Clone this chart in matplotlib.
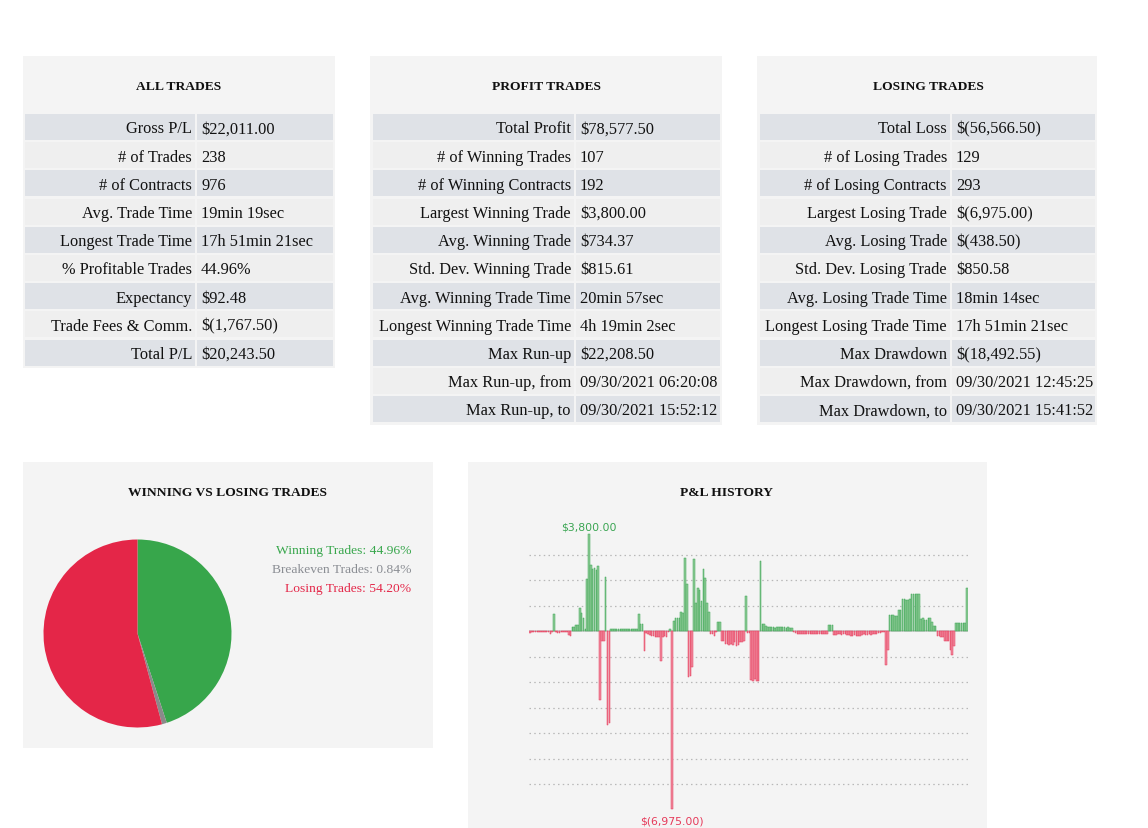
import matplotlib
matplotlib.use("Agg")
import matplotlib.pyplot as plt
from matplotlib.patches import Rectangle

# ---------------- data ----------------
all_labels = ["Gross P/L", "# of Trades", "# of Contracts", "Avg. Trade Time",
              "Longest Trade Time", "% Profitable Trades", "Expectancy",
              "Trade Fees & Comm.", "Total P/L"]
all_values = ["$22,011.00", "238", "976", "19min 19sec", "17h 51min 21sec",
              "44.96%", "$92.48", "$(1,767.50)", "$20,243.50"]

profit_labels = ["Total Profit", "# of Winning Trades", "# of Winning Contracts",
                 "Largest Winning Trade", "Avg. Winning Trade", "Std. Dev. Winning Trade",
                 "Avg. Winning Trade Time", "Longest Winning Trade Time", "Max Run-up",
                 "Max Run-up, from", "Max Run-up, to"]
profit_values = ["$78,577.50", "107", "192", "$3,800.00", "$734.37", "$815.61",
                 "20min 57sec", "4h 19min 2sec", "$22,208.50",
                 "09/30/2021 06:20:08", "09/30/2021 15:52:12"]

losing_labels = ["Total Loss", "# of Losing Trades", "# of Losing Contracts",
                 "Largest Losing Trade", "Avg. Losing Trade", "Std. Dev. Losing Trade",
                 "Avg. Losing Trade Time", "Longest Losing Trade Time", "Max Drawdown",
                 "Max Drawdown, from", "Max Drawdown, to"]
losing_values = ["$(56,566.50)", "129", "293", "$(6,975.00)", "$(438.50)", "$850.58",
                 "18min 14sec", "17h 51min 21sec", "$(18,492.55)",
                 "09/30/2021 12:45:25", "09/30/2021 15:41:52"]

pie_labels = ["Winning Trades", "Breakeven Trades", "Losing Trades"]
pie_values = [44.96, 0.84, 54.20]

pnl = [
    -80, -30, -25, -30, -20, -30, -25, -30, -30, -25, -30,
    -100, -30, 660, -40, -90, -90, -40, -40, -30, -40, -150, -180,
    150, 150, 230, 230, 890, 690, 500, 80, 2030, 3800, 2580, 2450, 2480, 2400, 2530,
    -2720, -400, -380, 2130, -3700, -3600,
    60, 70, 70, 70, 80, 70, 80, 90, 80, 90, 90, 80, 70, 90, 60,
    665, 270, 270, -800, -60, -100, -150, -180, -200, -250, -230, -250, -1190,
    -230, -200, -250, -30, 80, -6975,
    400, 500, 500, 500, 730, 690, 2880, 1840, -1810, -1750, -1400,
    2840, 1100, 1670, 1600, 1190, 2430, 2070, 1100, 730,
    -120, -120, -180, -50, 340, 340,
    -400, -400, -510, -510, -560, -510, -560, -440, -600, -560, -420, -420, -400,
    1380, -60, -80, -1940, -1950, -1900, -1960, -1950,
    2760, 260, 260, 200, 140, 140,
    140, 140, 120, 140, 140, 140, 140, 140, 100, 140, 100, 100,
    -50, -80, -100, -120, -120, -100, -120, -100, -120, -100, -100, -120, -100,
    -120, -100, -120, -100, -100, -120,
    230, 230, 230,
    -150, -150, -130, -100, -150, -120, -100, -150, -150, -180, -180, -160, -200,
    -200, -180, -150, -120, -150, -150, -120, -150, -120, -110, -100, -80, -60, -50, -40,
    -1330, -730,
    630, 630, 630, 575, 575, 820, 820, 1250, 1250, 1230, 1230, 1250,
    1450, 1450, 1450, 1450, 1450,
    470, 510, 430, 430, 510, 510, 340, 210, 210,
    -210, -210, -250, -250, -380, -380, -380, -730, -940, -575,
    300, 300, 300, 300, 300, 300, 1670,
]

# ---------------- layout ----------------
W, H = 1148, 829
fig = plt.figure(figsize=(W / 100, H / 100), dpi=100)
fig.patch.set_facecolor("white")

SERIF = ["Liberation Serif", "DejaVu Serif"]
PANEL = "#f4f4f4"
ROW_A = "#dfe2e7"
ROW_B = "#efefef"
GREEN = "#37a64b"
RED = "#e42648"
GRAY = "#8a8d93"


def px_axes(x0, y0, x1, y1, **kw):
    return fig.add_axes([x0 / W, 1 - y1 / H, (x1 - x0) / W, (y1 - y0) / H], **kw)


ax0 = px_axes(0, 0, W, H)
ax0.set_xlim(0, W)
ax0.set_ylim(H, 0)
ax0.axis("off")
ax0.set_zorder(0)


def panel(x0, y0, x1, y1, title, tx, ty):
    ax0.add_patch(Rectangle((x0, y0), x1 - x0, y1 - y0, facecolor=PANEL, edgecolor="none"))
    ax0.text(tx, ty, title, ha="center", va="center", fontsize=9.7, fontweight="bold",
             family=SERIF, color="#111111", parse_math=False)


def table(xl, xs, xr, ytop, labels, values):
    pitch = 28.2
    for k, (lab, val) in enumerate(zip(labels, values)):
        y = ytop + k * pitch
        c = ROW_A if k % 2 == 0 else ROW_B
        ax0.add_patch(Rectangle((xl, y), xs - 1 - xl, 26, facecolor=c, edgecolor="none"))
        ax0.add_patch(Rectangle((xs + 1, y), xr - xs - 1, 26, facecolor=c, edgecolor="none"))
        ax0.text(xs - 4, y + 14.3, lab, ha="right", va="center", fontsize=11.8,
                 family=SERIF, color="#111111", parse_math=False)
        ax0.text(xs + 5, y + 14.3, val, ha="left", va="center", fontsize=11.8,
                 family=SERIF, color="#111111", parse_math=False)


panel(23, 57, 335, 369, "ALL TRADES", 179, 86.5)
table(25, 196, 333, 115, all_labels, all_values)

panel(370, 57, 722, 426, "PROFIT TRADES", 546, 86.5)
table(373, 575, 720, 115, profit_labels, profit_values)

panel(757, 57, 1097, 426, "LOSING TRADES", 928, 86.5)
table(760, 951, 1095, 115, losing_labels, losing_values)

panel(23, 463, 433, 749, "WINNING VS LOSING TRADES", 228, 492.5)
panel(468, 463, 987, 829, "P&L HISTORY", 727, 492.5)

# ---------------- pie ----------------
axp = px_axes(43.5, 540.5, 231.5, 728.5)
axp.set_zorder(1)
axp.pie(pie_values, colors=[GREEN, "#8a8a8a", RED], startangle=90, counterclock=False,
        wedgeprops=dict(linewidth=0))
axp.set_xlim(-1, 1)
axp.set_ylim(-1, 1)
axp.set_aspect("equal")
axp.axis("off")

leg_colors = [GREEN, GRAY, RED]
for k, (lab, v) in enumerate(zip(pie_labels, pie_values)):
    ax0.text(411, 551 + k * 19, f"{lab}: {v:.2f}%", ha="right", va="center",
             fontsize=9.7, family=SERIF, color=leg_colors[k], parse_math=False)

# ---------------- P&L bars ----------------
n = len(pnl)
px_per = 1.844
x_left = 530 - 0.5 * px_per
x_right = x_left + n * px_per
ymax, ymin = 4000, -7000
scale = 0.0255
axb = px_axes(x_left, 632 - ymax * scale, x_right, 632 - ymin * scale)
axb.set_zorder(1)
axb.patch.set_alpha(0)
axb.set_xlim(-0.5, n - 0.5)
axb.set_ylim(ymin, ymax)
axb.axis("off")

for g in range(-6000, 4000, 1000):
    if g == 0:
        continue
    axb.axhline(g, color="#b8b8b8", lw=0.9, dashes=(1.2, 2.6), zorder=0)
axb.axhline(0, color="#cfcfcf", lw=1.4, zorder=1)

xs = list(range(n))
face = ["#8fcb98" if v >= 0 else "#f08a9e" for v in pnl]
edge = ["#3aa552" if v >= 0 else "#e63a5a" for v in pnl]
axb.bar(xs, pnl, width=0.85, color=face, edgecolor=edge, linewidth=0.35, zorder=2)

imax = max(range(n), key=lambda i: pnl[i])
imin = min(range(n), key=lambda i: pnl[i])
axb.annotate(f"${pnl[imax]:,.2f}", (imax, pnl[imax]), xytext=(0, 2),
             textcoords="offset points", ha="center", va="bottom", fontsize=7.8,
             color="#3aa552", family="DejaVu Sans", annotation_clip=False, parse_math=False)
axb.annotate(f"$({-pnl[imin]:,.2f})", (imin, pnl[imin]), xytext=(0, -4.5),
             textcoords="offset points", ha="center", va="top", fontsize=7.8,
             color="#e63a5a", family="DejaVu Sans", annotation_clip=False, parse_math=False)

fig.savefig("out.png", dpi=100, facecolor="white")
